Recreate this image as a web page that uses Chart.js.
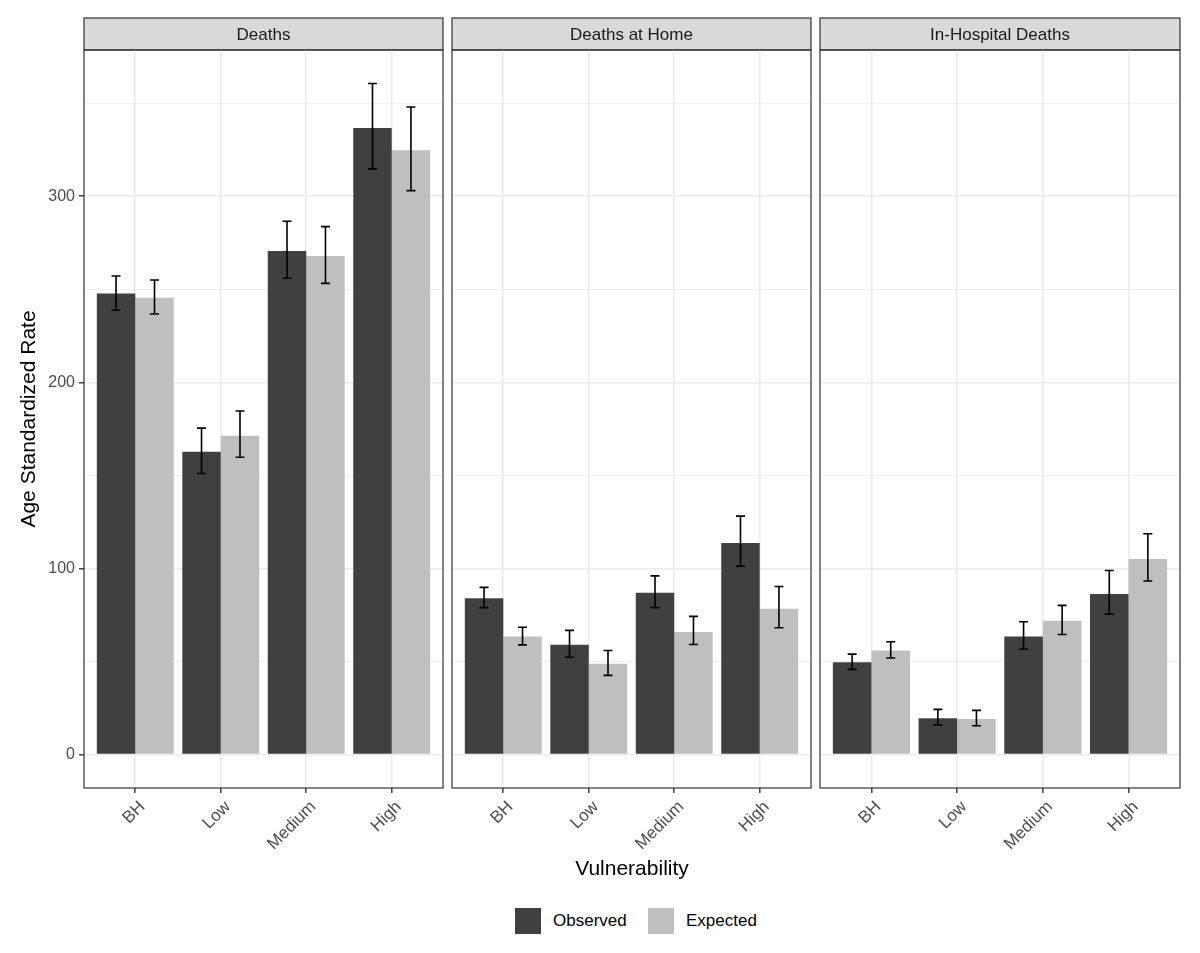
<!DOCTYPE html>
<html>
<head>
<meta charset="utf-8">
<script src="https://cdn.jsdelivr.net/npm/chart.js@4/dist/chart.umd.min.js"></script>
<style>
  html, body { margin:0; padding:0; background:#fff; }
  body { width:1200px; height:953px; position:relative; overflow:hidden; font-family:"Liberation Sans", Arial, sans-serif; }
  .cw { position:absolute; top:0; height:870px; }
  #xtitle { position:absolute; left:432px; width:400px; top:856px; text-align:center; font-size:21px; color:#000; }
  .lg-box { position:absolute; top:908px; width:26px; height:26px; }
  .lg-txt { position:absolute; top:910px; font-size:17px; color:#000; line-height:22px; }
</style>
</head>
<body>
<div class="cw" id="w1" style="left:0px;width:448px;"><canvas id="c1"></canvas></div>
<div class="cw" id="w2" style="left:442px;width:374px;"><canvas id="c2"></canvas></div>
<div class="cw" id="w3" style="left:810px;width:375px;"><canvas id="c3"></canvas></div>
<div id="xtitle">Vulnerability</div>
<div class="lg-box" style="left:515px;background:#404040;"></div>
<div class="lg-txt" style="left:553px;">Observed</div>
<div class="lg-box" style="left:648px;background:#bfbfbf;"></div>
<div class="lg-txt" style="left:686px;">Expected</div>
<script>
// ---- Data ----
const categories = ['BH', 'Low', 'Medium', 'High'];
const facets = ['Deaths', 'Deaths at Home', 'In-Hospital Deaths'];
const seriesNames = ['Observed', 'Expected'];

const deathsObserved = [247.7, 162.7, 270.6, 336.7];
const deathsExpected = [245.5, 171.3, 267.9, 324.7];
const deathsObservedCI = [[238.7, 257.1], [151.0, 175.4], [255.9, 286.6], [314.7, 360.6]];
const deathsExpectedCI = [[236.7, 255.0], [159.7, 184.6], [253.2, 283.7], [303.0, 348.0]];

const homeObserved = [84.0, 58.9, 86.9, 113.6];
const homeExpected = [63.4, 48.8, 65.8, 78.3];
const homeObservedCI = [[78.9, 89.8], [52.2, 66.7], [78.9, 96.0], [101.2, 128.1]];
const homeExpectedCI = [[58.9, 68.4], [42.5, 55.9], [59.1, 74.2], [68.1, 90.3]];

const hospObserved = [49.6, 19.5, 63.4, 86.2];
const hospExpected = [55.9, 19.1, 71.9, 105.0];
const hospObservedCI = [[45.7, 53.9], [15.9, 24.2], [56.5, 71.3], [75.4, 98.9]];
const hospExpectedCI = [[51.8, 60.6], [15.4, 23.7], [64.5, 80.1], [93.2, 118.6]];

const yMajorTicks = [0, 100, 200, 300];
const yMinorTicks = [50, 150, 250, 350];
const yMin = -18.03, yMax = 378.6;

const colors = ['#404040', '#bfbfbf'];
const FONT = '"Liberation Sans", Arial, sans-serif';

// ---- Plugins ----
const stripPlugin = {
  id: 'strip',
  beforeDraw(chart, args, opts) {
    const ca = chart.chartArea, ctx = chart.ctx;
    ctx.save();
    ctx.fillStyle = '#d9d9d9';
    ctx.fillRect(ca.left, 18, ca.right - ca.left, ca.top - 18);
    ctx.strokeStyle = '#333333';
    ctx.lineWidth = 1.2;
    ctx.strokeRect(ca.left, 18, ca.right - ca.left, ca.top - 18);
    ctx.fillStyle = '#1a1a1a';
    ctx.font = '17px ' + FONT;
    ctx.textAlign = 'center';
    ctx.textBaseline = 'middle';
    ctx.fillText(opts.text, (ca.left + ca.right) / 2, (18 + ca.top) / 2 + 1);
    ctx.restore();
  },
  afterDraw(chart) {
    const ca = chart.chartArea, ctx = chart.ctx;
    ctx.save();
    ctx.strokeStyle = '#333333';
    ctx.lineWidth = 1.2;
    ctx.strokeRect(ca.left, ca.top, ca.right - ca.left, ca.bottom - ca.top);
    ctx.restore();
  }
};

const errorBarPlugin = {
  id: 'errbars',
  afterDatasetsDraw(chart) {
    const ctx = chart.ctx, ys = chart.scales.y;
    ctx.save();
    ctx.strokeStyle = '#000';
    ctx.lineWidth = 1.6;
    chart.data.datasets.forEach((ds, i) => {
      const meta = chart.getDatasetMeta(i);
      meta.data.forEach((bar, j) => {
        const ci = ds.ci[j];
        const x = bar.x;
        const y1 = ys.getPixelForValue(ci[0]);
        const y2 = ys.getPixelForValue(ci[1]);
        const hw = 4.5;
        ctx.beginPath();
        ctx.moveTo(x, y1); ctx.lineTo(x, y2);
        ctx.moveTo(x - hw, y1); ctx.lineTo(x + hw, y1);
        ctx.moveTo(x - hw, y2); ctx.lineTo(x + hw, y2);
        ctx.stroke();
      });
    });
    ctx.restore();
  }
};

function makeChart(id, title, obs, exp, obsCI, expCI, showY, pad) {
  const toPts = arr => arr.map((v, i) => ({ x: i + 1, y: v }));
  return new Chart(document.getElementById(id), {
    type: 'bar',
    data: {
      datasets: [
        { label: seriesNames[0], data: toPts(obs), ci: obsCI, backgroundColor: colors[0], borderWidth: 0 },
        { label: seriesNames[1], data: toPts(exp), ci: expCI, backgroundColor: colors[1], borderWidth: 0 }
      ]
    },
    options: {
      responsive: true,
      maintainAspectRatio: false,
      animation: false,
      categoryPercentage: 0.9,
      barPercentage: 1.0,
      layout: { padding: pad },
      plugins: {
        legend: { display: false },
        tooltip: { enabled: false },
        strip: { text: title }
      },
      scales: {
        x: {
          type: 'linear',
          min: 0.4, max: 4.6,
          offset: false,
          afterBuildTicks: s => { s.ticks = categories.map((c, i) => ({ value: i + 1 })); },
          afterFit: s => { s.height = 82; },
          border: { display: false },
          grid: {
            offset: false,
            color: '#ebebeb', lineWidth: 1.6,
            drawTicks: true, tickLength: 5, tickColor: '#333333', tickWidth: 1.4
          },
          ticks: {
            autoSkip: false, minRotation: 45, maxRotation: 45, padding: 4, labelOffset: 7,
            color: '#4d4d4d', font: { family: FONT, size: 17 },
            callback: v => categories[v - 1]
          }
        },
        y: {
          type: 'linear',
          min: yMin, max: yMax,
          afterBuildTicks: s => {
            s.ticks = yMajorTicks.concat(yMinorTicks).sort((a, b) => a - b).map(v => ({ value: v }));
          },
          afterFit: s => { s.width = showY ? 71 : 0; },
          border: { display: false },
          grid: {
            color: '#ebebeb',
            lineWidth: c => (yMajorTicks.includes(c.tick && c.tick.value) ? 1.6 : 0.8),
            drawTicks: showY, tickLength: 5, tickWidth: 1.4,
            tickColor: c => (yMajorTicks.includes(c.tick && c.tick.value) ? '#333333' : 'rgba(0,0,0,0)')
          },
          title: {
            display: showY, text: 'Age Standardized Rate', color: '#000',
            font: { family: FONT, size: 21 }, padding: { top: 4, bottom: 4 }
          },
          ticks: {
            display: showY, padding: 4,
            color: '#4d4d4d', font: { family: FONT, size: 16 },
            callback: v => (yMajorTicks.includes(v) ? String(v) : '')
          }
        }
      }
    },
    plugins: [stripPlugin, errorBarPlugin]
  });
}

makeChart('c1', facets[0], deathsObserved, deathsExpected, deathsObservedCI, deathsExpectedCI, true,
  { left: 13, top: 50, right: 5, bottom: 0 });
makeChart('c2', facets[1], homeObserved, homeExpected, homeObservedCI, homeExpectedCI, false,
  { left: 10, top: 50, right: 5, bottom: 0 });
makeChart('c3', facets[2], hospObserved, hospExpected, hospObservedCI, hospExpectedCI, false,
  { left: 10, top: 50, right: 5, bottom: 0 });
</script>
</body>
</html>
